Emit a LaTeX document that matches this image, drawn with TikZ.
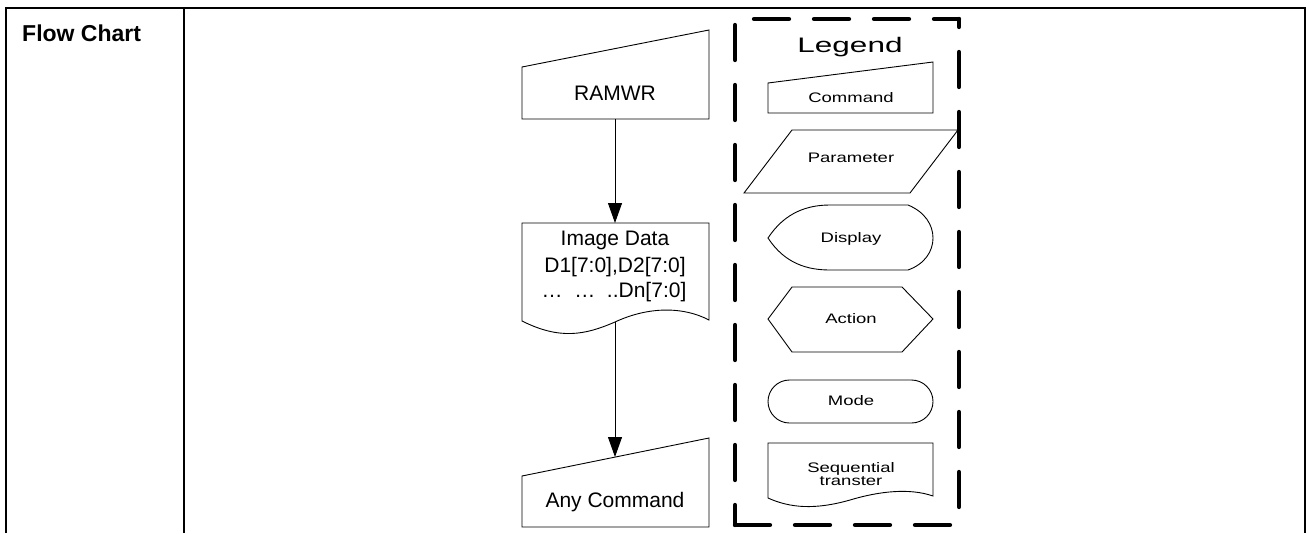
\documentclass[tikz,border=0pt]{standalone}
\usepackage{fontspec}
\setmainfont{Liberation Sans}
\usetikzlibrary{arrows.meta}
\begin{document}
\begin{tikzpicture}[x=1pt,y=-1pt,
  shp/.style={draw=black,line width=0.9pt,line join=miter},
  tbl/.style={line width=2.2pt},
  lgd/.style={line width=4.3pt,line cap=round,dash pattern=on 35pt off 25pt},
  main/.style={font=\fontsize{21}{25}\selectfont,inner sep=0pt,anchor=base},
  ltxt/.style={font=\fontsize{13.8}{14}\selectfont,inner sep=0pt,anchor=base},
  arr/.style={line width=0.9pt,-{Triangle[length=20pt,width=14pt]}}]
\useasboundingbox (0,0) rectangle (1309,533);
% table
\draw[tbl] (6,533) -- (6,8) -- (1305,8) -- (1305,533);
\draw[tbl] (184,8) -- (184,533);
\node[font=\bfseries\fontsize{23}{23}\selectfont,anchor=base west,inner sep=0pt] (title) at (22,41) {Flow Chart};
% main flow
\draw[shp] (522,67) -- (709,30) -- (709,119) -- (522,119) -- cycle;
\node[main] (ramwr) at (615,100) {RAMWR};
\draw[shp] (522,223) -- (709,223) -- (709,320) .. controls (680,305) and (645,308) .. (615,322) .. controls (585,335) and (560,340) .. (522,321) -- cycle;
\node[main] (img1) at (615,245) {Image Data};
\node[main] (img2) at (615,272) {D1[7:0],D2[7:0]};
\node[main] (img3) at (614,297) {…\ \ …\ \ ..Dn[7:0]};
\draw[shp] (522,476) -- (709,438) -- (709,527) -- (522,527) -- cycle;
\node[main] (anycmd) at (615,507) {Any Command};
\coordinate (ramwrS) at (615,119);
\coordinate (imgN) at (615,223);
\coordinate (imgS) at (615,322);
\coordinate (anyN) at (615,457);
\draw[arr] (ramwrS) -- (imgN);
\draw[arr] (imgS) -- (anyN);
% legend box
\draw[lgd,dash phase=54pt] (735,19) -- (735,525);
\draw[lgd] (735,525) -- (959,525);
\draw[lgd,dash phase=27pt] (959,19) -- (959,525);
\draw[lgd,dash phase=41pt] (735,19) -- (959,19);
\node[font=\fontsize{21}{21}\selectfont,inner sep=0pt,anchor=base] (legend) at (850,52) {\scalebox{1.5}[1]{Legend}};
% legend shapes
\draw[shp] (768,83) -- (933,62) -- (933,113) -- (768,113) -- cycle;
\node[ltxt] (lcmd) at (851,102) {\scalebox{1.34}[1]{Command}};
\draw[shp] (792,130) -- (958,130) -- (910,193) -- (744,193) -- cycle;
\node[ltxt] (lpar) at (851,162) {\scalebox{1.34}[1]{Parameter}};
\draw[shp] (768,238) .. controls (785,212) and (808,205) .. (830,205) -- (908,205) .. controls (925,212) and (933,225) .. (933,238) .. controls (933,251) and (925,264) .. (908,270) -- (830,270) .. controls (808,270) and (785,264) .. cycle;
\node[ltxt] (ldisp) at (851,242) {\scalebox{1.34}[1]{Display}};
\draw[shp] (768,319) -- (792,287) -- (902,287) -- (933,319) -- (902,352) -- (792,352) -- cycle;
\node[ltxt] (lact) at (851,323) {\scalebox{1.34}[1]{Action}};
\draw[shp,rounded corners=21.5pt] (768,380) rectangle (933,423);
\node[ltxt] (lmode) at (851,405) {\scalebox{1.34}[1]{Mode}};
\draw[shp] (768,443) -- (933,443) -- (933,496) .. controls (910,488) and (880,491) .. (850,500) .. controls (815,510) and (790,508) .. (768,498) -- cycle;
\node[ltxt] (lseq1) at (851,472) {\scalebox{1.34}[1]{Sequential}};
\node[ltxt] (lseq2) at (851,485) {\scalebox{1.34}[1]{transter}};
\end{tikzpicture}
\end{document}
